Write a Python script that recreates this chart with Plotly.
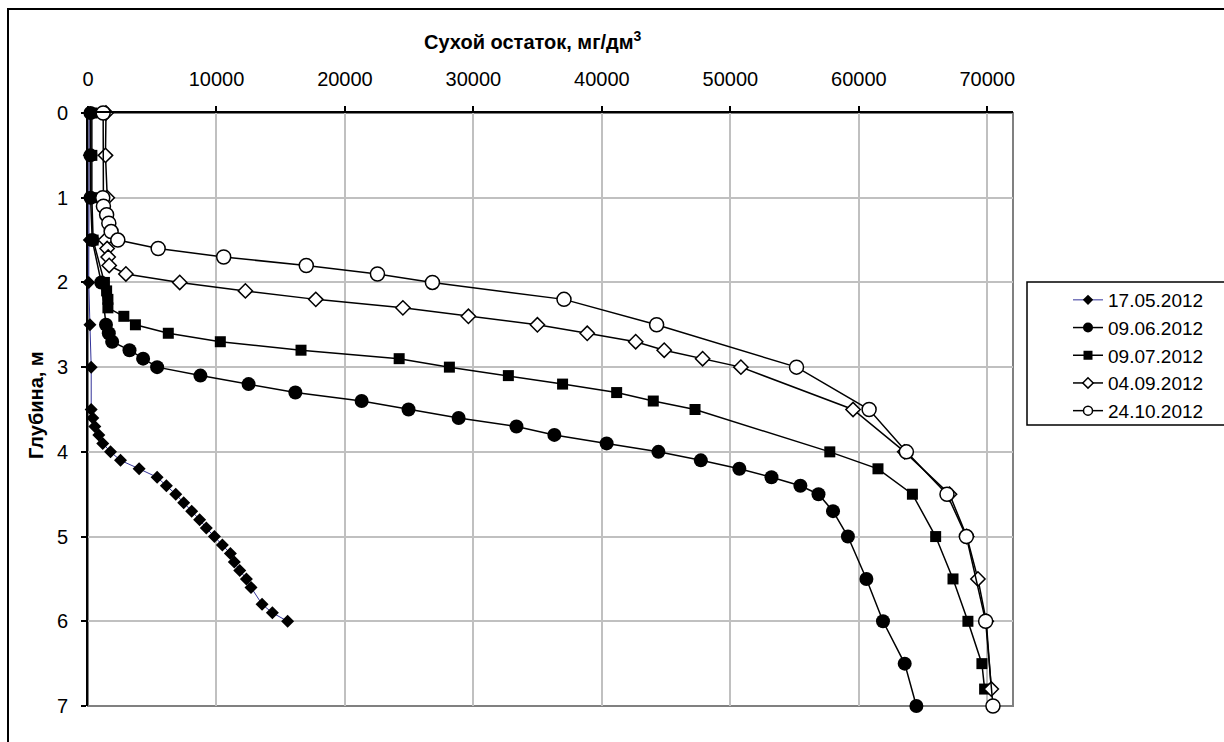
import plotly.graph_objects as go

# ---------------- data ----------------
d1705_depth = [0, 0.5, 1.0, 1.5, 2.0, 2.5, 3.0, 3.5, 3.6, 3.7, 3.8, 3.9, 4.0, 4.1, 4.2, 4.3, 4.4, 4.5,
               4.6, 4.7, 4.8, 4.9, 5.0, 5.1, 5.2, 5.3, 5.4, 5.5, 5.6, 5.8, 5.9, 6.0]
d1705_val = [100, 100, 100, 100, 60, 150, 250, 250, 375, 530, 840, 1150, 1750, 2530, 3980, 5380, 6100, 6830,
             7450, 8070, 8690, 9210, 9840, 10460, 11080, 11390, 11810, 12330, 12690, 13550, 14350, 15540]

d0906_depth = [0, 0.5, 1.0, 1.5, 2.0, 2.5, 2.6, 2.7, 2.8, 2.9, 3.0, 3.1, 3.2, 3.3, 3.4, 3.5, 3.6, 3.7,
               3.8, 3.9, 4.0, 4.1, 4.2, 4.3, 4.4, 4.5, 4.7, 5.0, 5.5, 6.0, 6.5, 7.0]
d0906_val = [190, 190, 200, 330, 1030, 1400, 1620, 1880, 3230, 4290, 5380, 8750, 12500, 16140, 21300, 24950,
             28850, 33350, 36300, 40370, 44400, 47700, 50700, 53200, 55450, 56860, 57990, 59150, 60590,
             61880, 63570, 64480]

d0907_depth = [0, 0.5, 1.0, 1.5, 2.0, 2.1, 2.2, 2.3, 2.4, 2.5, 2.6, 2.7, 2.8, 2.9, 3.0, 3.1, 3.2, 3.3,
               3.4, 3.5, 4.0, 4.2, 4.5, 5.0, 5.5, 6.0, 6.5, 6.8]
d0907_val = [300, 300, 300, 400, 1280, 1450, 1550, 1550, 2790, 3690, 6250, 10300, 16580, 24220, 28130,
             32720, 36940, 41150, 44000, 47250, 57740, 61490, 64170, 65980, 67330, 68490, 69580, 69790]

d0409_depth = [0, 0.5, 1.0, 1.5, 1.6, 1.7, 1.8, 1.9, 2.0, 2.1, 2.2, 2.3, 2.4, 2.5, 2.6, 2.7, 2.8, 2.9,
               3.0, 3.5, 4.0, 4.5, 5.0, 5.5, 6.0, 6.8]
d0409_val = [1400, 1360, 1500, 1360, 1490, 1570, 1650, 2950, 7140, 12250, 17730, 24510, 29610, 34980,
             38860, 42630, 44850, 47840, 50820, 59550, 63570, 67060, 68400, 69270, 69920, 70310]

d2410_depth = [0, 1.0, 1.1, 1.2, 1.3, 1.4, 1.5, 1.6, 1.7, 1.8, 1.9, 2.0, 2.2, 2.5, 3.0, 3.5, 4.0, 4.5,
               5.0, 6.0, 7.0]
d2410_val = [1180, 1150, 1200, 1450, 1620, 1800, 2320, 5460, 10560, 16990, 22530, 26810, 37050, 44260,
             55150, 60800, 63700, 66860, 68370, 69870, 70440]

x_title = "Сухой остаток, мг/дм<sup>3</sup>"
y_title = "Глубина, м"
x_ticks = [0, 10000, 20000, 30000, 40000, 50000, 60000, 70000]
y_ticks = [0, 1, 2, 3, 4, 5, 6, 7]

# ---------------- layout geometry ----------------
W, H = 1224, 742
L, R, T, B = 88, 1013, 113, 706
FONT = "Liberation Sans, Arial, sans-serif"
FS = 20


def xp(px):
    return (px - L) / (R - L)


def yp(py):
    return (B - py) / (B - T)


fig = go.Figure()

# (name, x, y, line colour, line width, marker style, legend marker size)
series = [
    ("17.05.2012", d1705_val, d1705_depth, "#333399", 1,
     dict(symbol="diamond", size=10, color="black", line=dict(width=0)), 8),
    ("09.06.2012", d0906_val, d0906_depth, "black", 1.5,
     dict(symbol="circle", size=14, color="black", line=dict(width=0)), 10),
    ("09.07.2012", d0907_val, d0907_depth, "black", 1.5,
     dict(symbol="square", size=11, color="black", line=dict(width=0)), 9),
    ("04.09.2012", d0409_val, d0409_depth, "black", 1.5,
     dict(symbol="diamond", size=11, color="white", line=dict(width=1.5, color="black")), 8),
    ("24.10.2012", d2410_val, d2410_depth, "black", 1.5,
     dict(symbol="circle", size=14, color="white", line=dict(width=1.5, color="black")), 9),
]

for name, xs, ys, lc, lw, mk, _ in series:
    fig.add_trace(go.Scatter(
        x=xs, y=ys, name=name, mode="lines+markers",
        line=dict(color=lc, width=lw), marker=mk,
        cliponaxis=False, showlegend=False,
    ))

# legend entries (smaller sample markers, as in the reference legend)
for name, xs, ys, lc, lw, mk, lsize in series:
    mk2 = dict(mk)
    mk2["size"] = lsize
    fig.add_trace(go.Scatter(
        x=[None], y=[None], name=name, mode="lines+markers",
        line=dict(color=lc, width=lw), marker=mk2, showlegend=True,
    ))

fig.update_layout(
    width=W, height=H,
    margin=dict(l=L, r=W - R, t=T, b=H - B, pad=0),
    paper_bgcolor="white", plot_bgcolor="white",
    font=dict(family=FONT, size=FS, color="black"),
    showlegend=True,
    legend=dict(x=xp(1068), y=yp(281), xanchor="left", yanchor="top",
                bgcolor="rgba(0,0,0,0)", borderwidth=0,
                font=dict(family=FONT, size=19, color="black"),
                tracegroupgap=0),
    xaxis=dict(range=[0, 72000], side="top", tickvals=x_ticks, ticktext=[str(v) for v in x_ticks],
               showgrid=True, gridcolor="#c0c0c0", gridwidth=1.5,
               showline=True, linecolor="black", linewidth=2,
               ticks="outside", ticklen=5, tickwidth=1.5, tickcolor="black",
               ticklabelstandoff=12, zeroline=False,
               tickfont=dict(family=FONT, size=FS, color="black")),
    yaxis=dict(range=[7, 0], tickvals=y_ticks, ticktext=[str(v) for v in y_ticks],
               showgrid=True, gridcolor="#c0c0c0", gridwidth=1.5,
               showline=True, linecolor="black", linewidth=2,
               ticks="outside", ticklen=5, tickwidth=1.5, tickcolor="black",
               ticklabelstandoff=9, zeroline=False,
               tickfont=dict(family=FONT, size=FS, color="black")),
)

# plot-area border (grey right/bottom), outer chart border, legend box
fig.add_shape(type="rect", xref="paper", yref="paper", x0=0, x1=1, y0=0, y1=1,
              line=dict(color="#808080", width=2), layer="below")
fig.add_shape(type="rect", xref="paper", yref="paper", x0=xp(8), x1=xp(1240), y0=yp(760), y1=yp(9),
              line=dict(color="black", width=2))
fig.add_shape(type="rect", xref="paper", yref="paper", x0=xp(1027), x1=xp(1240), y0=yp(425), y1=yp(282),
              line=dict(color="black", width=1.5))

fig.add_annotation(xref="paper", yref="paper", x=xp(533), y=yp(41), xanchor="center", yanchor="middle",
                   text="<b>" + x_title + "</b>", showarrow=False,
                   font=dict(family=FONT, size=FS, color="black"))
fig.add_annotation(xref="paper", yref="paper", x=xp(36), y=yp(405), xanchor="center", yanchor="middle",
                   text="<b>" + y_title + "</b>", showarrow=False, textangle=-90,
                   font=dict(family=FONT, size=FS, color="black"))

fig.write_html("out.html")
